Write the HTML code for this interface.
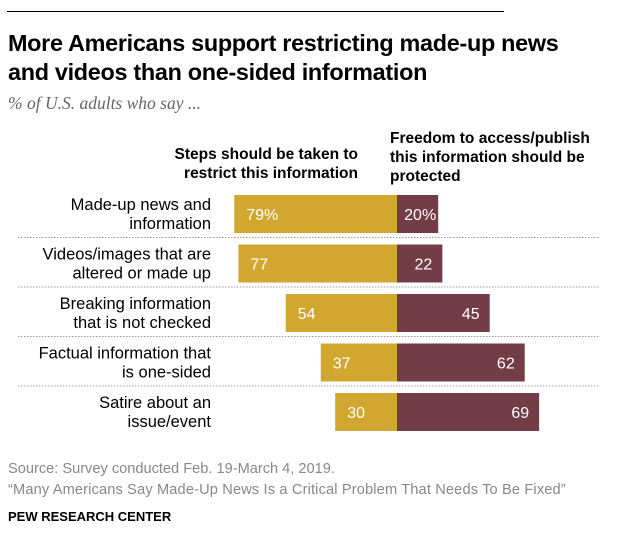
<!DOCTYPE html>
<html><head><meta charset="utf-8"><style>
body{margin:0;background:#fff;width:622px;height:560px;overflow:hidden;position:relative;font-family:"Liberation Sans",sans-serif}
.a{position:absolute}
</style></head><body>
<div class="a" style="left:7px;top:11px;width:497px;height:1px;background:#000"></div>
<div class="a" style="left:8px;top:29px;font-size:23.4px;font-weight:bold;line-height:29px;color:#000;letter-spacing:-0.3px;white-space:nowrap">More Americans support restricting made-up news<br>and videos than one-sided information</div>
<div class="a" style="left:8px;top:93px;font-family:'Liberation Serif',serif;font-style:italic;font-size:17.5px;color:#666">% of U.S. adults who say ...</div>
<div class="a" style="right:264px;top:145px;font-size:15.5px;font-weight:bold;line-height:19px;text-align:right;white-space:nowrap">Steps should be taken to<br>restrict this information</div>
<div class="a" style="left:390px;top:129px;font-size:15.5px;font-weight:bold;line-height:19px;white-space:nowrap">Freedom to access/publish<br>this information should be<br>protected</div>
<svg class="a" style="left:0;top:0" width="622" height="560" id="chart"></svg>
<div class="a" style="left:8px;top:459px;font-size:14.6px;color:#888;line-height:21px;white-space:nowrap">Source: Survey conducted Feb. 19-March 4, 2019.<br><span style="letter-spacing:0.15px">“Many Americans Say Made-Up News Is a Critical Problem That Needs To Be Fixed”</span></div>
<div class="a" style="left:8px;top:509px;font-size:13px;font-weight:bold;color:#000">PEW RESEARCH CENTER</div>
<script>
const categories=[["Made-up news and","information"],["Videos/images that are","altered or made up"],["Breaking information","that is not checked"],["Factual information that","is one-sided"],["Satire about an","issue/event"]];
const restrictValues=[79,77,54,37,30];
const freedomValues=[20,22,45,62,69];
const restrictLabels=["79%","77","54","37","30"];
const freedomLabels=["20%","22","45","62","69"];
const svg=document.getElementById('chart');
const NS='http://www.w3.org/2000/svg';
const cx=397,k=2.06,top0=195,pitch=49.5,bh=38;
const x=v=>v*k;
function mk(t,a){const e=document.createElementNS(NS,t);for(const n in a)e.setAttribute(n,a[n]);svg.appendChild(e);return e;}
categories.forEach((c,i)=>{
 const y=top0+i*pitch;
 const r=mk('rect',{x:cx-x(restrictValues[i]),y:y,width:x(restrictValues[i]),height:bh,fill:'#d1a730'});
 
 
 const f=mk('rect',{x:cx,y:y,width:x(freedomValues[i]),height:bh,fill:'#733d47'});
 
 
 const t1=mk('text',{x:cx-x(restrictValues[i])+12,y:y+25,fill:'#fff','font-size':16,'font-family':'Liberation Sans, sans-serif'});
 t1.textContent=restrictLabels[i];
 
 
 const t2=mk('text',{x:cx+x(freedomValues[i])-(i<1?2:10),y:y+25,fill:'#fff','font-size':16,'text-anchor':'end','font-family':'Liberation Sans, sans-serif'});
 t2.textContent=freedomLabels[i];
 
 
 c.forEach((ln,j)=>{const t=mk('text',{x:211,y:y+15+j*19,'font-size':16.5,'text-anchor':'end',fill:'#000','font-family':'Liberation Sans, sans-serif'});t.textContent=ln;
  
  });
 if(i<categories.length-1){const l=mk('line',{x1:18,x2:600,y1:y+bh+4.5,y2:y+bh+4.5,stroke:'#999','stroke-width':1,'stroke-dasharray':'1.5,1.5'});
  
  }
});
</script>
</body></html>
